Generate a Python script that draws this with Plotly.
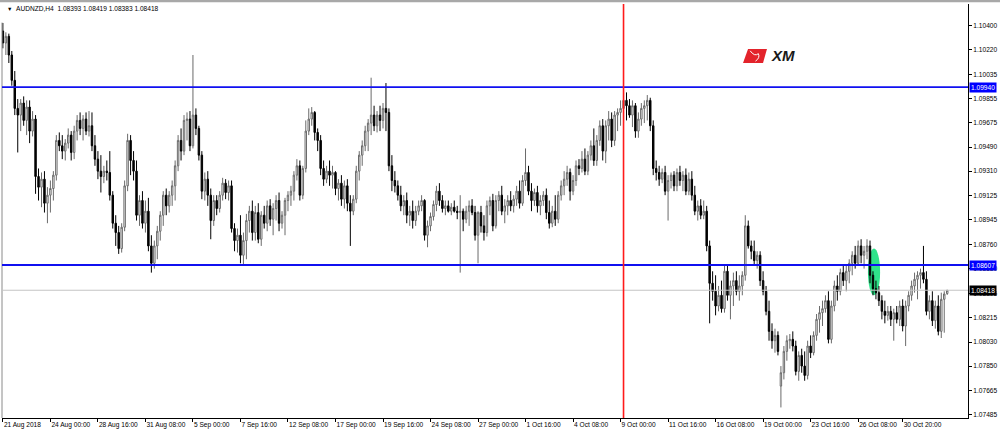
import plotly.graph_objects as go

symbol_title = "AUDNZD,H4  1.08393 1.08419 1.08383 1.08418"

opens = [
    1.1036, 1.1027, 1.1032, 1.1018, 1.0999, 1.0978, 1.0973, 1.0982, 1.0969, 1.0979,
    1.0961, 1.0970, 1.0927, 1.0919, 1.0925, 1.0907, 1.0913, 1.0918, 1.0928, 1.0954,
    1.0950, 1.0946, 1.0952, 1.0958, 1.0945, 1.0961, 1.0969, 1.0963, 1.0970, 1.0961,
    1.0965, 1.0950, 1.0940, 1.0931, 1.0927, 1.0931, 1.0930, 1.0913, 1.0892, 1.0885,
    1.0873, 1.0889, 1.0920, 1.0954, 1.0939, 1.0931, 1.0898, 1.0909, 1.0892, 1.0901,
    1.0875, 1.0862, 1.0875, 1.0886, 1.0898, 1.0913, 1.0905, 1.0913, 1.0920, 1.0935,
    1.0954, 1.0946, 1.0969, 1.0970, 1.0950, 1.0973, 1.0963, 1.0943, 1.0916, 1.0925,
    1.0913, 1.0894, 1.0909, 1.0903, 1.0913, 1.0922, 1.0915, 1.0920, 1.0888, 1.0879,
    1.0883, 1.0868, 1.0879, 1.0894, 1.0901, 1.0885, 1.0900, 1.0880, 1.0898, 1.0892,
    1.0905, 1.0895, 1.0903, 1.0909, 1.0892, 1.0898, 1.0909, 1.0913, 1.0916, 1.0928,
    1.0935, 1.0913, 1.0933, 1.0961, 1.0970, 1.0975, 1.0960, 1.0954, 1.0933, 1.0925,
    1.0931, 1.0928, 1.0930, 1.0918, 1.0922, 1.0910, 1.0920, 1.0907, 1.0901, 1.0910,
    1.0931, 1.0943, 1.0950, 1.0961, 1.0967, 1.0973, 1.0965, 1.0973, 1.0969, 1.0978,
    1.0975, 1.0935, 1.0924, 1.0920, 1.0913, 1.0905, 1.0909, 1.0898, 1.0901, 1.0894,
    1.0901, 1.0905, 1.0909, 1.0883, 1.0890, 1.0897, 1.0906, 1.0916, 1.0909, 1.0903,
    1.0905, 1.0901, 1.0904, 1.0901, 1.0900, 1.0901, 1.0895, 1.0901, 1.0905, 1.0900,
    1.0883, 1.0900, 1.0890, 1.0885, 1.0905, 1.0909, 1.0890, 1.0909, 1.0913, 1.0901,
    1.0905, 1.0909, 1.0905, 1.0910, 1.0916, 1.0907, 1.0924, 1.0930, 1.0916, 1.0909,
    1.0915, 1.0905, 1.0909, 1.0913, 1.0900, 1.0892, 1.0901, 1.0895, 1.0913, 1.0920,
    1.0925, 1.0930, 1.0916, 1.0924, 1.0935, 1.0933, 1.0940, 1.0931, 1.0943, 1.0950,
    1.0939, 1.0954, 1.0965, 1.0946, 1.0965, 1.0970, 1.0954, 1.0973, 1.0975, 1.0978,
    1.0984, 1.0980, 1.0973, 1.0980, 1.0961, 1.0970, 1.0978, 1.0980, 1.0984, 1.0965,
    1.0933, 1.0930, 1.0925, 1.0930, 1.0916, 1.0924, 1.0928, 1.0920, 1.0930, 1.0924,
    1.0928, 1.0916, 1.0925, 1.0913, 1.0901, 1.0905, 1.0898, 1.0901, 1.0875, 1.0847,
    1.0841, 1.0830, 1.0838, 1.0828, 1.0856, 1.0838, 1.0845, 1.0849, 1.0841, 1.0845,
    1.0853, 1.0890, 1.0875, 1.0871, 1.0864, 1.0868, 1.0849, 1.0841, 1.0826, 1.0811,
    1.0804, 1.0808, 1.0770, 1.0780, 1.0796, 1.0804, 1.0805, 1.0800, 1.0781, 1.0793,
    1.0785, 1.0778, 1.0800, 1.0795, 1.0808, 1.0820, 1.0825, 1.0828, 1.0834, 1.0805,
    1.0830, 1.0845, 1.0841, 1.0855, 1.0849, 1.0856, 1.0862, 1.0868, 1.0862, 1.0875,
    1.0868, 1.0871, 1.0875, 1.0853, 1.0843, 1.0840, 1.0834, 1.0826, 1.0823, 1.0826,
    1.0820, 1.0825, 1.0820, 1.0830, 1.0815, 1.0830, 1.0838, 1.0845, 1.0850, 1.0853,
    1.0855, 1.0850, 1.0826, 1.0834, 1.0819, 1.0830, 1.0811, 1.0835, 1.08393,
]

highs = [
    1.1042, 1.1035, 1.1034, 1.1021, 1.1006, 1.0985, 1.0985, 1.0987, 1.0984, 1.0984,
    1.0976, 1.0973, 1.0933, 1.0930, 1.0931, 1.0919, 1.0924, 1.0931, 1.0958, 1.0960,
    1.0958, 1.0955, 1.0963, 1.0961, 1.0965, 1.0973, 1.0975, 1.0973, 1.0975, 1.0976,
    1.0975, 1.0958, 1.0946, 1.0943, 1.0935, 1.0939, 1.0946, 1.0916, 1.0898, 1.0890,
    1.0892, 1.0924, 1.0959, 1.0958, 1.0946, 1.0939, 1.0913, 1.0916, 1.0909, 1.0911,
    1.0883, 1.0879, 1.0890, 1.0901, 1.0916, 1.0918, 1.0916, 1.0924, 1.0939, 1.0958,
    1.0963, 1.0973, 1.0975, 1.0976, 1.1018, 1.0978, 1.0965, 1.0946, 1.0930, 1.0931,
    1.0918, 1.0913, 1.0913, 1.0916, 1.0926, 1.0925, 1.0924, 1.0924, 1.0892, 1.0888,
    1.0898, 1.0885, 1.0899, 1.0905, 1.0909, 1.0905, 1.0907, 1.0901, 1.0905, 1.0909,
    1.0910, 1.0907, 1.0913, 1.0915, 1.0901, 1.0911, 1.0916, 1.0920, 1.0931, 1.0940,
    1.0939, 1.0935, 1.0969, 1.0978, 1.0979, 1.0976, 1.0963, 1.0958, 1.0939, 1.0935,
    1.0939, 1.0935, 1.0931, 1.0925, 1.0928, 1.0924, 1.0925, 1.0913, 1.0913, 1.0935,
    1.0946, 1.0954, 1.0965, 1.0970, 1.1001, 1.0980, 1.0976, 1.0980, 1.0982, 1.0997,
    1.0978, 1.0943, 1.0931, 1.0924, 1.0920, 1.0913, 1.0915, 1.0905, 1.0909, 1.0905,
    1.0909, 1.0913, 1.0910, 1.0894, 1.0900, 1.0909, 1.0920, 1.0922, 1.0913, 1.0909,
    1.0909, 1.0907, 1.0909, 1.0905, 1.0913, 1.0903, 1.0905, 1.0909, 1.0910, 1.0905,
    1.0901, 1.0905, 1.0898, 1.0909, 1.0912, 1.0914, 1.0913, 1.0916, 1.0920, 1.0910,
    1.0913, 1.0916, 1.0913, 1.0920, 1.0924, 1.0928, 1.0948, 1.0935, 1.0922, 1.0918,
    1.0920, 1.0913, 1.0916, 1.0918, 1.0909, 1.0905, 1.0913, 1.0916, 1.0924, 1.0931,
    1.0935, 1.0933, 1.0928, 1.0939, 1.0940, 1.0946, 1.0948, 1.0946, 1.0954, 1.0963,
    1.0958, 1.0969, 1.0970, 1.0969, 1.0976, 1.0975, 1.0976, 1.0978, 1.0984, 1.0991,
    1.0990, 1.0985, 1.0984, 1.0982, 1.0975, 1.0982, 1.0984, 1.0988, 1.0986, 1.0969,
    1.0939, 1.0935, 1.0933, 1.0935, 1.0928, 1.0930, 1.0931, 1.0933, 1.0935, 1.0931,
    1.0933, 1.0930, 1.0931, 1.0920, 1.0909, 1.0910, 1.0909, 1.0905, 1.0879, 1.0856,
    1.0853, 1.0845, 1.0849, 1.0860, 1.0860, 1.0849, 1.0855, 1.0856, 1.0853, 1.0856,
    1.0898, 1.0894, 1.0879, 1.0879, 1.0871, 1.0871, 1.0856, 1.0845, 1.0834, 1.0817,
    1.0813, 1.0811, 1.0785, 1.0800, 1.0808, 1.0809, 1.0811, 1.0804, 1.0796, 1.0798,
    1.0796, 1.0804, 1.0808, 1.0811, 1.0824, 1.0830, 1.0834, 1.0838, 1.0841, 1.0834,
    1.0849, 1.0853, 1.0858, 1.0860, 1.0860, 1.0865, 1.0871, 1.0875, 1.0879, 1.0880,
    1.0875, 1.0880, 1.0879, 1.0856, 1.0849, 1.0845, 1.0838, 1.0834, 1.0830, 1.0830,
    1.0828, 1.0830, 1.0834, 1.0835, 1.0834, 1.0841, 1.0849, 1.0855, 1.0856, 1.0858,
    1.0875, 1.0856, 1.0838, 1.0841, 1.0834, 1.0838, 1.0840, 1.0841, 1.08419,
]

lows = [
    1.1023, 1.1018, 1.1012, 1.0995, 1.0973, 1.0945, 1.0961, 1.0965, 1.0958, 1.0952,
    1.0957, 1.0914, 1.0909, 1.0904, 1.0900, 1.0892, 1.0900, 1.0909, 1.0924, 1.0946,
    1.0940, 1.0939, 1.0948, 1.0939, 1.0940, 1.0954, 1.0958, 1.0954, 1.0958, 1.0957,
    1.0946, 1.0935, 1.0925, 1.0915, 1.0922, 1.0924, 1.0909, 1.0888, 1.0875, 1.0869,
    1.0870, 1.0886, 1.0916, 1.0928, 1.0924, 1.0894, 1.0890, 1.0888, 1.0885, 1.0871,
    1.0855, 1.0858, 1.0865, 1.0879, 1.0890, 1.0898, 1.0900, 1.0905, 1.0909, 1.0931,
    1.0939, 1.0943, 1.0954, 1.0946, 1.0948, 1.0958, 1.0939, 1.0910, 1.0909, 1.0905,
    1.0880, 1.0890, 1.0898, 1.0900, 1.0909, 1.0910, 1.0909, 1.0885, 1.0871, 1.0870,
    1.0862, 1.0860, 1.0865, 1.0885, 1.0879, 1.0879, 1.0877, 1.0875, 1.0888, 1.0886,
    1.0890, 1.0883, 1.0894, 1.0886, 1.0888, 1.0883, 1.0901, 1.0905, 1.0909, 1.0924,
    1.0909, 1.0910, 1.0930, 1.0958, 1.0965, 1.0954, 1.0946, 1.0928, 1.0920, 1.0922,
    1.0920, 1.0918, 1.0913, 1.0909, 1.0905, 1.0903, 1.0901, 1.0875, 1.0898, 1.0907,
    1.0924, 1.0935, 1.0946, 1.0946, 1.0958, 1.0961, 1.0960, 1.0961, 1.0963, 1.0961,
    1.0931, 1.0916, 1.0915, 1.0909, 1.0901, 1.0898, 1.0892, 1.0890, 1.0888, 1.0890,
    1.0898, 1.0901, 1.0879, 1.0874, 1.0886, 1.0894, 1.0901, 1.0905, 1.0900, 1.0898,
    1.0900, 1.0898, 1.0900, 1.0895, 1.0855, 1.0886, 1.0892, 1.0890, 1.0898, 1.0879,
    1.0862, 1.0885, 1.0879, 1.0882, 1.0898, 1.0886, 1.0888, 1.0901, 1.0898, 1.0892,
    1.0898, 1.0901, 1.0900, 1.0905, 1.0903, 1.0905, 1.0920, 1.0913, 1.0901, 1.0905,
    1.0900, 1.0898, 1.0905, 1.0895, 1.0888, 1.0889, 1.0890, 1.0892, 1.0909, 1.0913,
    1.0920, 1.0909, 1.0913, 1.0920, 1.0928, 1.0930, 1.0928, 1.0928, 1.0939, 1.0935,
    1.0935, 1.0950, 1.0939, 1.0937, 1.0954, 1.0949, 1.0950, 1.0961, 1.0965, 1.0967,
    1.0969, 1.0971, 1.0964, 1.0956, 1.0956, 1.0965, 1.0967, 1.0969, 1.0961, 1.0928,
    1.0924, 1.0920, 1.0922, 1.0913, 1.0894, 1.0918, 1.0916, 1.0916, 1.0920, 1.0916,
    1.0913, 1.0913, 1.0909, 1.0898, 1.0894, 1.0895, 1.0895, 1.0871, 1.0817, 1.0834,
    1.0823, 1.0826, 1.0825, 1.0825, 1.0834, 1.0820, 1.0830, 1.0838, 1.0834, 1.0838,
    1.0849, 1.0873, 1.0865, 1.0860, 1.0858, 1.0845, 1.0838, 1.0823, 1.0804, 1.0798,
    1.0795, 1.0793, 1.0754, 1.0775, 1.0789, 1.0798, 1.0796, 1.0778, 1.0774, 1.0780,
    1.0774, 1.0775, 1.0791, 1.0793, 1.0804, 1.0810, 1.0815, 1.0825, 1.0802, 1.0802,
    1.0826, 1.0834, 1.0838, 1.0845, 1.0841, 1.0847, 1.0853, 1.0858, 1.0860, 1.0862,
    1.0858, 1.0865, 1.0847, 1.0838, 1.0835, 1.0830, 1.0820, 1.0817, 1.0819, 1.0815,
    1.0804, 1.0817, 1.0815, 1.0811, 1.0800, 1.0826, 1.0834, 1.0840, 1.0835, 1.0843,
    1.0847, 1.0823, 1.0820, 1.0815, 1.0813, 1.0808, 1.0806, 1.0810, 1.08383,
]

closes = [
    1.1027, 1.1032, 1.1018, 1.0999, 1.0978, 1.0973, 1.0982, 1.0969, 1.0979, 1.0961,
    1.0970, 1.0927, 1.0919, 1.0925, 1.0907, 1.0913, 1.0918, 1.0928, 1.0954, 1.0950,
    1.0946, 1.0952, 1.0958, 1.0945, 1.0961, 1.0969, 1.0963, 1.0970, 1.0961, 1.0965,
    1.0950, 1.0940, 1.0931, 1.0927, 1.0931, 1.0930, 1.0913, 1.0892, 1.0885, 1.0873,
    1.0889, 1.0920, 1.0954, 1.0939, 1.0931, 1.0898, 1.0909, 1.0892, 1.0901, 1.0875,
    1.0862, 1.0875, 1.0886, 1.0898, 1.0913, 1.0905, 1.0913, 1.0920, 1.0935, 1.0954,
    1.0946, 1.0969, 1.0970, 1.0950, 1.0973, 1.0963, 1.0943, 1.0916, 1.0925, 1.0913,
    1.0894, 1.0909, 1.0903, 1.0913, 1.0922, 1.0915, 1.0920, 1.0888, 1.0879, 1.0883,
    1.0868, 1.0879, 1.0894, 1.0901, 1.0885, 1.0900, 1.0880, 1.0898, 1.0892, 1.0905,
    1.0895, 1.0903, 1.0909, 1.0892, 1.0898, 1.0909, 1.0913, 1.0916, 1.0928, 1.0935,
    1.0913, 1.0933, 1.0961, 1.0970, 1.0975, 1.0960, 1.0954, 1.0933, 1.0925, 1.0931,
    1.0928, 1.0930, 1.0918, 1.0922, 1.0910, 1.0920, 1.0907, 1.0901, 1.0910, 1.0931,
    1.0943, 1.0950, 1.0961, 1.0967, 1.0973, 1.0965, 1.0973, 1.0969, 1.0978, 1.0975,
    1.0935, 1.0924, 1.0920, 1.0913, 1.0905, 1.0909, 1.0898, 1.0901, 1.0894, 1.0901,
    1.0905, 1.0909, 1.0883, 1.0890, 1.0897, 1.0906, 1.0916, 1.0909, 1.0903, 1.0905,
    1.0901, 1.0904, 1.0901, 1.0900, 1.0901, 1.0895, 1.0901, 1.0905, 1.0900, 1.0883,
    1.0900, 1.0890, 1.0885, 1.0905, 1.0909, 1.0890, 1.0909, 1.0913, 1.0901, 1.0905,
    1.0909, 1.0905, 1.0910, 1.0916, 1.0907, 1.0924, 1.0930, 1.0916, 1.0909, 1.0915,
    1.0905, 1.0909, 1.0913, 1.0900, 1.0892, 1.0901, 1.0895, 1.0913, 1.0920, 1.0925,
    1.0930, 1.0916, 1.0924, 1.0935, 1.0933, 1.0940, 1.0931, 1.0943, 1.0950, 1.0939,
    1.0954, 1.0965, 1.0946, 1.0965, 1.0970, 1.0954, 1.0973, 1.0975, 1.0978, 1.0984,
    1.0980, 1.0973, 1.0980, 1.0961, 1.0970, 1.0978, 1.0980, 1.0984, 1.0965, 1.0933,
    1.0930, 1.0925, 1.0930, 1.0916, 1.0924, 1.0928, 1.0920, 1.0930, 1.0924, 1.0928,
    1.0916, 1.0925, 1.0913, 1.0901, 1.0905, 1.0898, 1.0901, 1.0875, 1.0847, 1.0841,
    1.0830, 1.0838, 1.0828, 1.0856, 1.0838, 1.0845, 1.0849, 1.0841, 1.0845, 1.0853,
    1.0890, 1.0875, 1.0871, 1.0864, 1.0868, 1.0849, 1.0841, 1.0826, 1.0811, 1.0804,
    1.0808, 1.0796, 1.0780, 1.0796, 1.0804, 1.0805, 1.0800, 1.0781, 1.0793, 1.0785,
    1.0778, 1.0800, 1.0795, 1.0808, 1.0820, 1.0825, 1.0828, 1.0834, 1.0805, 1.0830,
    1.0845, 1.0841, 1.0855, 1.0849, 1.0856, 1.0862, 1.0868, 1.0862, 1.0875, 1.0868,
    1.0871, 1.0875, 1.0853, 1.0843, 1.0840, 1.0834, 1.0826, 1.0823, 1.0826, 1.0820,
    1.0825, 1.0820, 1.0830, 1.0815, 1.0830, 1.0838, 1.0845, 1.0850, 1.0853, 1.0855,
    1.0850, 1.0826, 1.0834, 1.0819, 1.0830, 1.0811, 1.0835, 1.0839, 1.08418,
]

tick_bars = [0, 16, 32, 48, 64, 80, 96, 112, 128, 144, 160, 176, 192, 208, 224, 240, 256, 272, 288, 303]
tick_labels = ["21 Aug 2018", "24 Aug 00:00", "28 Aug 16:00", "31 Aug 08:00", "5 Sep 00:00",
               "7 Sep 16:00", "12 Sep 08:00", "17 Sep 00:00", "19 Sep 16:00", "24 Sep 08:00",
               "27 Sep 00:00", "1 Oct 16:00", "4 Oct 08:00", "9 Oct 00:00", "11 Oct 16:00",
               "16 Oct 08:00", "19 Oct 00:00", "23 Oct 16:00", "26 Oct 08:00", "30 Oct 20:00"]
price_ticks = [1.10400, 1.10220, 1.10035, 1.09855, 1.09675, 1.09490, 1.09310, 1.09125, 1.08945,
               1.08760, 1.08580, 1.08395, 1.08215, 1.08030, 1.07850, 1.07665, 1.07485]

resistance = 1.09940
support = 1.08607
bid_price = 1.08418
event_bar = 209
highlight_bars = (291.3, 295.4)
highlight_prices = (1.0838, 1.0873)

n = min(len(opens), len(highs), len(lows), len(closes))
bars = list(range(n))

FONT = "Liberation Sans"
FS = 6.6

fig = go.Figure()
fig.add_trace(go.Candlestick(
    x=bars, open=opens[:n], high=highs[:n], low=lows[:n], close=closes[:n],
    increasing=dict(line=dict(color="#6a6a6a", width=1), fillcolor="#ffffff"),
    decreasing=dict(line=dict(color="#000000", width=1), fillcolor="#000000"),
    whiskerwidth=0, hoverinfo="skip", showlegend=False,
))

shapes = [
    # top window strip
    dict(type="rect", xref="paper", yref="paper", x0=-0.01, x1=1.04, y0=1.0045, y1=1.012,
         fillcolor="#a8a8a8", line=dict(width=0)),
    # left border
    dict(type="line", xref="paper", yref="paper", x0=0, x1=0, y0=0, y1=0.955,
         line=dict(color="#8a8a8a", width=1)),
    # green highlight
    dict(type="circle", xref="x", yref="y", x0=highlight_bars[0], x1=highlight_bars[1],
         y0=highlight_prices[0], y1=highlight_prices[1], fillcolor="#2fe38a",
         line=dict(width=0), layer="below"),
    # bid line
    dict(type="line", xref="paper", yref="y", x0=0, x1=1, y0=bid_price, y1=bid_price,
         line=dict(color="#c4c4c4", width=1)),
    # horizontal levels
    dict(type="line", xref="paper", yref="y", x0=0, x1=1, y0=resistance, y1=resistance,
         line=dict(color="#1010f0", width=1.8)),
    dict(type="line", xref="paper", yref="y", x0=0, x1=1, y0=support, y1=support,
         line=dict(color="#1010f0", width=1.8)),
    # event vertical line
    dict(type="line", xref="x", yref="paper", x0=event_bar, x1=event_bar, y0=0, y1=1,
         line=dict(color="#ff1a1a", width=1.6)),
    # XM logo red mark
    dict(type="path", xref="paper", yref="paper",
         path="M 0.7723 0.8913 L 0.7919 0.8913 L 0.7878 0.8575 L 0.7671 0.8575 Z",
         fillcolor="#e3232b", line=dict(width=0)),
    dict(type="path", xref="paper", yref="paper",
         path="M 0.7745 0.8870 Q 0.7790 0.8720 0.7830 0.8800 Q 0.7850 0.8700 0.7800 0.8620",
         line=dict(color="#ffffff", width=1)),
]

annotations = [
    dict(xref="paper", yref="paper", x=0.003, y=0.989, text="▼", showarrow=False,
         xanchor="left", yanchor="middle", font=dict(family=FONT, size=5.5, color="#000000")),
    dict(xref="paper", yref="paper", x=0.0125, y=0.989, text=symbol_title, showarrow=False,
         xanchor="left", yanchor="middle", font=dict(family=FONT, size=FS, color="#000000")),
    dict(xref="paper", yref="paper", x=0.7935, y=0.8744, text="<b><i>XM</i></b>", showarrow=False,
         xanchor="left", yanchor="middle", font=dict(family=FONT, size=15, color="#1a1a1a")),
]
for level, bg in [(resistance, "#0000ff"), (support, "#0000ff"), (bid_price, "#000000")]:
    annotations.append(dict(
        xref="paper", yref="y", x=1.0, y=level, xshift=1, text=f"{level:.5f}",
        showarrow=False, xanchor="left", yanchor="middle", bgcolor=bg, borderpad=1,
        font=dict(family=FONT, size=FS, color="#ffffff"),
    ))

fig.update_layout(
    width=1000, height=434,
    margin=dict(l=2, r=32, t=4, b=16, autoexpand=False),
    paper_bgcolor="#ffffff", plot_bgcolor="#ffffff",
    showlegend=False,
    shapes=shapes, annotations=annotations,
    font=dict(family=FONT, size=FS, color="#000000"),
    xaxis=dict(
        range=[-0.3, 325], tickmode="array", tickvals=tick_bars, ticktext=tick_labels,
        ticks="outside", ticklen=3, tickcolor="#000000", tickwidth=1, tickangle=0,
        showline=True, linecolor="#000000", linewidth=1, automargin=False,
        showgrid=False, zeroline=False, rangeslider=dict(visible=False),
        ticklabelposition="outside right", tickfont=dict(family=FONT, size=FS, color="#000000"),
        fixedrange=True,
    ),
    yaxis=dict(
        side="right", range=[1.07461, 1.10562], tickmode="array", tickvals=price_ticks,
        ticktext=[f"{p:.5f}" for p in price_ticks], automargin=False,
        ticks="outside", ticklen=3, tickcolor="#000000", tickwidth=1,
        showline=True, linecolor="#000000", linewidth=1,
        showgrid=False, zeroline=False,
        tickfont=dict(family=FONT, size=FS, color="#000000"), fixedrange=True,
    ),
)

fig.write_html(
    "out.html",
    config={"displayModeBar": False},
    post_script="document.body.style.margin='0px';document.body.style.padding='0px';",
)
